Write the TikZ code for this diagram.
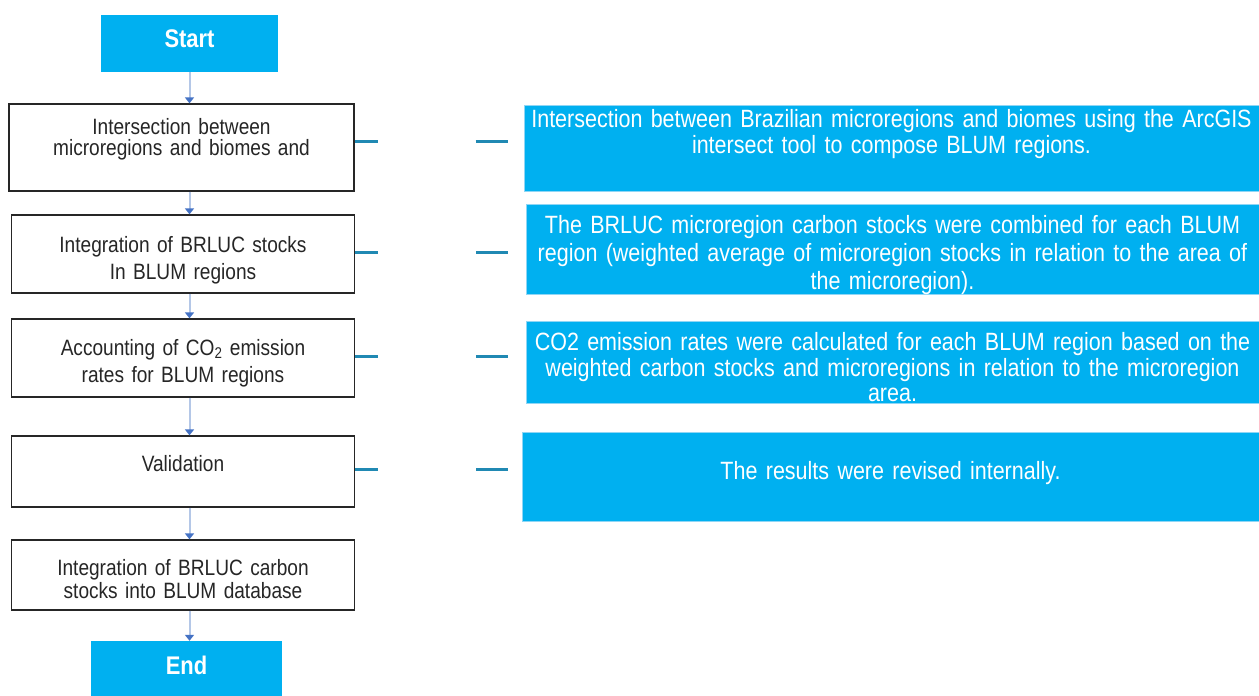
\documentclass[tikz,border=0pt]{standalone}
\usepackage{xcolor}
\usepackage{fontspec}
\setmainfont{Liberation Sans}
\newfontfamily\narrowsans[FakeStretch=0.86]{Liberation Sans}
\usepackage{tikz}
\usetikzlibrary{arrows.meta, positioning, calc}
\definecolor{flow-cyan}{HTML}{00B0F0}
\definecolor{flow-edge}{HTML}{8FD6F5}
\definecolor{flow-line}{HTML}{B4C7E7}
\definecolor{flow-tip}{HTML}{4472C4}
\definecolor{flow-link}{HTML}{2089B3}
\definecolor{flow-text}{HTML}{262626}

\begin{document}
\begin{tikzpicture}[x=1pt,y=-1pt,
		terminal/.style={
			fill=flow-cyan,
			minimum width=177pt, minimum height=57pt,
			inner sep=0pt, text depth=10pt,
			font=\narrowsans\fontsize{25.5}{28}\selectfont\bfseries\color{white}
		},
		stepbox/.style={
			draw=flow-text, line width=1.3pt, fill=white,
			minimum width=343pt,
			text width=330pt, inner sep=0pt, align=center,
			font=\narrowsans\fontsize{22.2}{27}\selectfont\color{flow-text}
		},
		notebox/.style={
			draw=flow-edge, line width=0.8pt, fill=flow-cyan,
			minimum width=735pt,
			text width=730pt, inner sep=0pt, align=center,
			font=\narrowsans\fontsize{25}{26}\selectfont\color{white}
		},
		flow/.style={
			draw=flow-line, line width=2pt,
			-{Triangle[length=6pt,width=9pt,color=flow-tip]}
		},
		link/.style={
			draw=flow-link, line width=3pt,
			dash pattern=on 23pt off 98pt on 32pt off 100pt
		}
		]
		
		\useasboundingbox (0,0) rectangle (1259,696);
		
		% Start
		\node[terminal] (start) at (189.5,43.5) {Start};
		
		% step 1 - intersection
		\node[stepbox,minimum width=345pt,minimum height=87pt,
		font=\narrowsans\fontsize{22.2}{21.5}\selectfont\color{flow-text}] (b1) at (181.5,147.5)
		{Intersection between\\microregions and biomes and\\\mbox{}};
		\node[notebox,minimum height=86pt,text depth=60pt] (r1) at (891.5,148)
		{Intersection between Brazilian microregions and biomes using the ArcGIS\\intersect tool to compose BLUM regions.};
		
		% step 2 - integration of stocks
		\node[stepbox,minimum height=78pt,text height=28pt] (b2) at (183,254)
		{Integration of BRLUC stocks\\In BLUM regions};
		\node[notebox,minimum height=89pt,minimum width=733pt,text height=29pt,
		font=\narrowsans\fontsize{25}{28}\selectfont\color{white}] (r2) at (892.5,249.5)
		{The BRLUC microregion carbon stocks were combined for each BLUM\\region (weighted average of microregion stocks in relation to the area of\\the microregion).};
		
		% step 3 - emission rates
		\node[stepbox,minimum height=78pt,text height=26pt] (b3) at (183,358)
		{Accounting of CO\textsubscript{2} emission\\rates for BLUM regions};
		\node[notebox,minimum height=82pt,minimum width=733pt,text height=29pt,
		font=\narrowsans\fontsize{25}{25.5}\selectfont\color{white}] (r3) at (892.5,362)
		{CO2 emission rates were calculated for each BLUM region based on the\\weighted carbon stocks and microregions in relation to the microregion\\area.};
		
		% step 4 - validation
		\node[stepbox,minimum height=71pt,text height=27pt] (b4) at (183,471.5)
		{Validation\\\mbox{}};
		\node[notebox,minimum height=89pt,minimum width=737pt,text depth=12pt] (r4) at (890.5,476.5)
		{The results were revised internally.};
		
		% step 5 - database
		\node[stepbox,minimum height=70pt,text height=24pt,
		font=\narrowsans\fontsize{22.2}{23}\selectfont\color{flow-text}] (b5) at (183,575)
		{Integration of BRLUC carbon\\stocks into BLUM database};
		
		% End
		\node[terminal,minimum width=191pt,minimum height=58pt] (end) at (186.5,670) {End};
		
		% arrows down the chain
		\foreach \a/\b in {start/b1,b1/b2,b2/b3,b3/b4,b4/b5,b5/end}
		\draw[flow] (\a.south -| start) -- (\b.north -| start);
		
		% links to the notes
		\draw[link] ([yshift=6pt]b1.east) -- ([yshift=6pt]b1.east -| r1.west);
		\foreach \a/\b in {b2/r2,b3/r3,b4/r4}
		\draw[link] ([yshift=2pt]\a.east) -- ([yshift=2pt]\a.east -| \b.west);
		
	\end{tikzpicture}
\end{document}
